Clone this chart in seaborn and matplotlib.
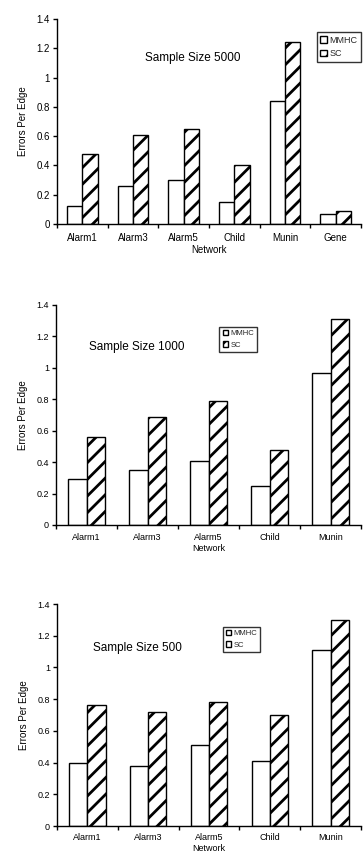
import pandas as pd
import matplotlib.pyplot as plt
import seaborn as sns
from matplotlib.ticker import FormatStrFormatter, FixedLocator

networks_5000 = ["Alarm1", "Alarm3", "Alarm5", "Child", "Munin", "Gene"]
mmhc_5000 = [0.12, 0.26, 0.30, 0.15, 0.84, 0.07]
sc_5000 = [0.48, 0.61, 0.65, 0.40, 1.24, 0.09]

networks_small = ["Alarm1", "Alarm3", "Alarm5", "Child", "Munin"]
mmhc_1000 = [0.29, 0.35, 0.41, 0.25, 0.97]
sc_1000 = [0.56, 0.69, 0.79, 0.48, 1.31]
mmhc_500 = [0.40, 0.38, 0.51, 0.41, 1.11]
sc_500 = [0.76, 0.72, 0.78, 0.70, 1.30]

methods = ["MMHC", "SC"]

sns.set_theme(style="white")
plt.rcParams["font.family"] = ["Liberation Sans", "DejaVu Sans"]
plt.rcParams["hatch.linewidth"] = 2.0

W, H = 363, 861


def make_df(networks, mmhc, sc):
    return pd.DataFrame({
        "network": networks * 2,
        "value": mmhc + sc,
        "method": [methods[0]] * len(networks) + [methods[1]] * len(networks),
    })


def draw_panel(fig, box, networks, mmhc, sc, title, title_xy, leg_anchor,
               leg_size, tick_pad, tick_size):
    left, top, right, bottom = box
    ax = fig.add_axes([left / W, 1 - bottom / H, (right - left) / W, (bottom - top) / H])
    df = make_df(networks, mmhc, sc)
    sns.barplot(
        data=df, x="network", y="value", hue="method",
        palette=["white", "white"], edgecolor="black", linewidth=1,
        width=0.6, gap=0, legend=False, ax=ax,
    )
    for bar in ax.containers[1]:
        bar.set_hatch("//")

    n = len(networks)
    ax.set_xlim(-0.5, n - 0.5)
    ax.set_ylim(0, 1.4)
    ax.set_yticks([0, 0.2, 0.4, 0.6, 0.8, 1.0, 1.2, 1.4])
    ax.yaxis.set_major_formatter(FormatStrFormatter("%g"))
    ax.xaxis.set_minor_locator(FixedLocator([i - 0.5 for i in range(n + 1)]))
    ax.tick_params(axis="x", which="major", length=0, labelsize=tick_size,
                   pad=tick_pad, colors="black")
    ax.tick_params(axis="x", which="minor", length=3, width=1, color="black", bottom=True)
    ax.tick_params(axis="y", length=3, width=1, labelsize=tick_size, pad=2,
                   colors="black", left=True)
    for s in ["top", "right"]:
        ax.spines[s].set_visible(False)
    for s in ["left", "bottom"]:
        ax.spines[s].set_color("black")
        ax.spines[s].set_linewidth(1)
    ax.set_xlabel("Network", fontsize=tick_size, labelpad=1.5, color="black")
    ax.set_ylabel("Errors Per Edge", fontsize=7, labelpad=6, color="black")
    ax.text(title_xy[0], title_xy[1], title, transform=ax.transAxes,
            ha="center", va="center", fontsize=8.5, color="black")
    leg = ax.legend(
        ax.containers, methods, loc="upper right", bbox_to_anchor=leg_anchor,
        fontsize=leg_size, frameon=True, fancybox=False, edgecolor="black",
        handlelength=0.7, handleheight=0.7, handletextpad=0.3,
        borderpad=0.4, labelspacing=0.5, borderaxespad=0,
    )
    leg.get_frame().set_linewidth(1)
    return ax


fig = plt.figure(figsize=(W / 100, H / 100), dpi=100)

draw_panel(fig, (57, 19, 361, 224), networks_5000, mmhc_5000, sc_5000,
           "Sample Size 5000", (0.447, 0.81), (1.0, 0.937), 6.5, 6.5, 7)
draw_panel(fig, (56, 305, 361, 525), networks_small, mmhc_1000, sc_1000,
           "Sample Size 1000", (0.266, 0.81), (0.659, 0.90), 5.5, 5.5, 6.5)
draw_panel(fig, (57, 604, 361, 826), networks_small, mmhc_500, sc_500,
           "Sample Size 500", (0.266, 0.80), (0.668, 0.896), 5.5, 5, 6.5)

fig.savefig("out.png", dpi=100)
plt.close(fig)
